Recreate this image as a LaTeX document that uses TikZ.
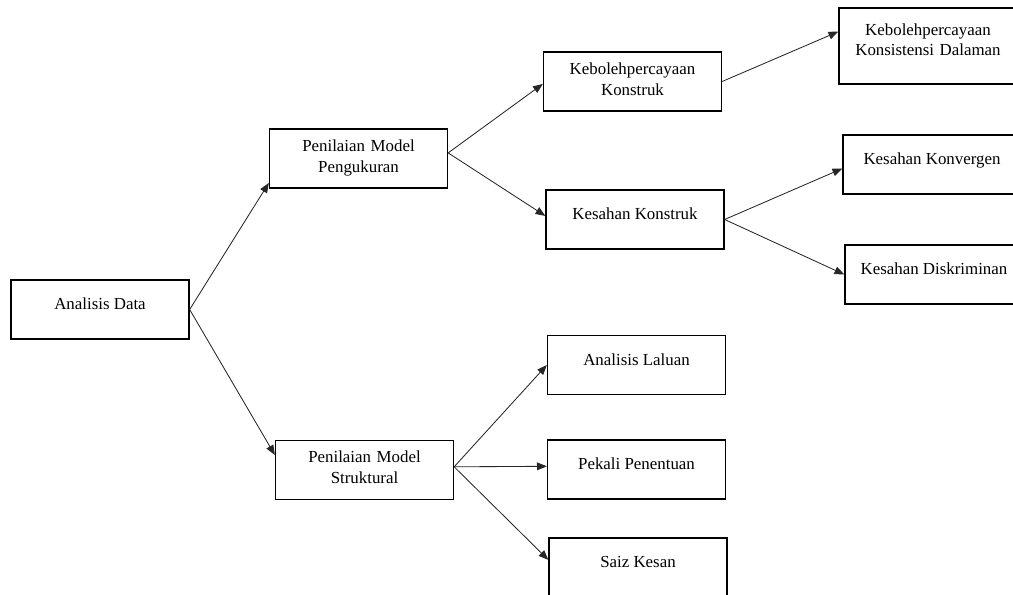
\documentclass[tikz,border=0pt]{standalone}
\usepackage{fontspec}
\setmainfont{Liberation Serif}
\usetikzlibrary{arrows.meta}
\tikzset{>={Triangle[length=7pt,width=5.5pt]},
    x=0.025cm, y=-0.025cm,
    font=\fontsize{12}{14.8}\selectfont,
    box/.style={rectangle,draw,line width=0.9pt,inner sep=0pt,
        minimum width=4.45cm,minimum height=1.475cm,
        text height=9pt,text depth=9pt},
    twobox/.style={box,text width=4.2cm,align=center,text depth=19pt},
    tallbox/.style={twobox,minimum height=1.9cm,text depth=24.6pt},
    link/.style={->,draw,line width=0.6pt,black!85}}
\begin{document}
\begin{tikzpicture}
\useasboundingbox (0,0) rectangle (1013,594);

\node[box]     (a)  at (100,309.5)   {Analisis Data};
\node[twobox]  (b)  at (358.5,158.5) {Penilaian Model\\Pengukuran};
\node[twobox]  (c)  at (364.5,470)   {Penilaian Model\\Struktural};
\node[twobox]  (d)  at (632.5,81.5)  {Kebolehpercayaan\\Konstruk};
\node[box]     (e)  at (635,219.5)   {Kesahan Konstruk};
\node[tallbox] (f)  at (928,46)      {Kebolehpercayaan\\Konsistensi Dalaman};
\node[box]     (g)  at (932,164.5)   {Kesahan Konvergen};
\node[box]     (h)  at (934,274.5)   {Kesahan Diskriminan};
\node[box]     (i)  at (636.5,365)   {Analisis Laluan};
\node[box]     (j)  at (636.5,469.5) {Pekali Penentuan};
\node[box]     (k)  at (638,567.5)   {Saiz Kesan};

\path
    (a.east)                edge [link] ([yshift=-0.61cm]b.west)
    (a.east)                edge [link] ([yshift=0.375cm]c.west)
    ([yshift=0.14cm]b.east) edge [link] ([yshift=-0.06cm]d.west)
    ([yshift=0.14cm]b.east) edge [link] ([yshift=0.09cm]e.west)
    (d.east)                edge [link] ([yshift=0.36cm]f.west)
    (e.east)                edge [link] ([yshift=-0.1cm]g.west)
    (e.east)                edge [link] (h.west)
    ([yshift=0.08cm]c.east) edge [link] (i.west)
    ([yshift=0.08cm]c.east) edge [link] ([yshift=0.08cm]j.west)
    ([yshift=0.08cm]c.east) edge [link] ([yshift=0.19cm]k.west);
\end{tikzpicture}
\end{document}
